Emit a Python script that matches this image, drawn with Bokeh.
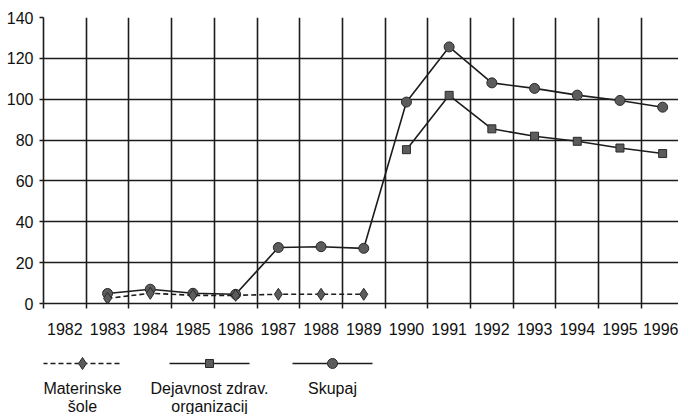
from bokeh.plotting import figure
from bokeh.layouts import column
from bokeh.models import Range1d, FixedTicker
from bokeh.core.properties import value
from bokeh.embed import file_html
from bokeh.resources import INLINE

# ---- data ----
years = [1982, 1983, 1984, 1985, 1986, 1987, 1988, 1989, 1990, 1991, 1992, 1993, 1994, 1995, 1996]
tick_labels = [str(y) for y in years]
y_ticks = [0, 20, 40, 60, 80, 100, 120, 140]

mat_years = [1983, 1984, 1985, 1986, 1987, 1988, 1989]
mat_vals = [2.5, 5, 4, 4, 4.5, 4.5, 4.5]

dej_years = [1990, 1991, 1992, 1993, 1994, 1995, 1996]
dej_vals = [75.3, 101.9, 85.5, 81.9, 79.4, 76.1, 73.4]

sku_years = [1983, 1984, 1985, 1986, 1987, 1988, 1989, 1990, 1991, 1992, 1993, 1994, 1995, 1996]
sku_vals = [4.9, 7, 5, 4.5, 27.4, 27.8, 27, 98.6, 125.6, 108, 105.3, 102, 99.4, 96.1]

legend_labels = [["Materinske", "šole"], ["Dejavnost zdrav.", "organizacij"], ["Skupaj"]]

FONT = "Liberation Sans"
FSIZE = "16px"
INK = "#1c1c1c"
MFILL = "#5c5c5c"

boundaries = [y - 0.5 for y in years] + [years[-1] + 0.5]

W = 678
BL = 43
FW = W - BL
p = figure(width=W, height=353, frame_width=FW, frame_height=286,
           x_range=Range1d(1981.5, 1981.5 + FW / 42.7), y_range=Range1d(0, 140),
           output_backend="svg", toolbar_location=None,
           min_border_left=BL, min_border_right=0, min_border_top=17, min_border_bottom=50)
p.outline_line_color = None
p.background_fill_color = "white"
p.border_fill_color = "white"

# grid
p.xgrid.ticker = FixedTicker(ticks=boundaries)
p.ygrid.ticker = FixedTicker(ticks=y_ticks)
for g in (p.xgrid, p.ygrid):
    g.grid_line_color = INK
    g.grid_line_width = 1.6
    g.grid_line_alpha = 1.0

# x axis
p.xaxis.ticker = FixedTicker(ticks=years, minor_ticks=boundaries)
p.xaxis.major_label_overrides = {y: s for y, s in zip(years, tick_labels)}
p.xaxis.major_tick_out = 0
p.xaxis.major_tick_in = 0
p.xaxis.minor_tick_out = 5
p.xaxis.minor_tick_in = 0
p.xaxis.minor_tick_line_color = INK
p.xaxis.minor_tick_line_width = 1.5
p.xaxis.axis_line_color = INK
p.xaxis.axis_line_width = 1.6
p.xaxis.major_label_standoff = 14

# y axis
p.yaxis.ticker = FixedTicker(ticks=y_ticks)
p.yaxis.major_tick_out = 4
p.yaxis.major_tick_in = 0
p.yaxis.minor_tick_line_color = None
p.yaxis.major_tick_line_color = INK
p.yaxis.major_tick_line_width = 1.5
p.yaxis.axis_line_color = INK
p.yaxis.axis_line_width = 1.6
p.yaxis.major_label_standoff = 6

for ax in (p.xaxis, p.yaxis):
    ax.major_label_text_font = FONT
    ax.major_label_text_font_size = FSIZE
    ax.major_label_text_color = "#111111"

# series
p.line(sku_years, sku_vals, line_color=INK, line_width=1.6)
p.scatter(sku_years, sku_vals, marker="circle", size=10, fill_color=MFILL, line_color="#2a2a2a", line_width=1)

p.line(dej_years, dej_vals, line_color=INK, line_width=1.6)
p.scatter(dej_years, dej_vals, marker="square", size=8, fill_color=MFILL, line_color="#2a2a2a", line_width=1)

p.line(mat_years, mat_vals, line_color=INK, line_width=1.6, line_dash="5 3")
p.scatter(mat_years, mat_vals, marker="diamond", size=12, fill_color=MFILL, line_color="#2a2a2a", line_width=1)

# ---- legend figure (frame spans the same pixels as the chart frame) ----
LH = 61
lg = figure(width=W, height=LH, frame_width=FW, frame_height=LH,
            x_range=Range1d(BL, W), y_range=Range1d(LH, 0),
            x_axis_type=None, y_axis_type=None, output_backend="svg", toolbar_location=None,
            min_border=0, min_border_left=BL, min_border_right=0, min_border_top=0, min_border_bottom=0)
lg.outline_line_color = None
lg.xgrid.visible = False
lg.ygrid.visible = False

centers = [82, 209, 332]
half = 40
line_y = 10
markers = ["diamond", "square", "circle"]
msizes = [12, 8, 10]
dashes = ["5 3", "solid", "solid"]
for i, c in enumerate(centers):
    lg.line([c - half, c + half], [line_y, line_y], line_color=INK, line_width=1.4, line_dash=dashes[i])
    lg.scatter([c], [line_y], marker=markers[i], size=msizes[i], fill_color=MFILL, line_color="#2a2a2a")

# labels may extend left of the frame, so draw them in a free-standing way via the chart-wide text glyph
for i, c in enumerate(centers):
    for j, t in enumerate(legend_labels[i]):
        lg.text([c], [35 + 18 * j], text=[t], text_align="center", text_baseline="middle",
                text_font=value(FONT), text_font_size=FSIZE, text_color="#111111")

layout = column(p, lg, spacing=0)
open("out.html", "w").write(file_html(layout, INLINE))
